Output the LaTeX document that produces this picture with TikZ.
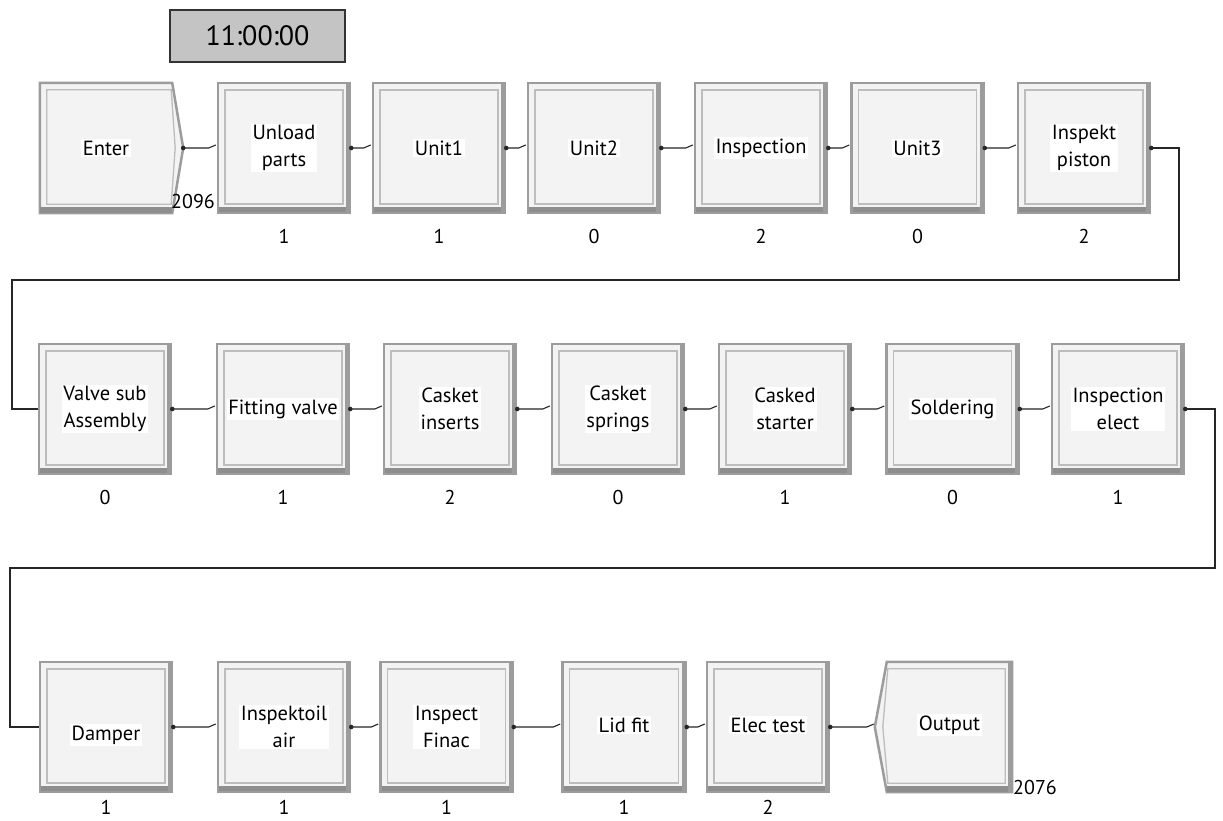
\documentclass[tikz,border=0pt]{standalone}
\usepackage{fontspec}
\setmainfont{PT Sans}
\usetikzlibrary{calc}
\definecolor{boxfill}{HTML}{F3F3F3}
\definecolor{boxedge}{HTML}{9C9C9C}
\definecolor{innerln}{HTML}{BDBDBD}
\definecolor{barcol}{HTML}{8E8E8E}
\definecolor{timerfill}{HTML}{C4C4C4}
\tikzset{
  procbox/.style={rectangle, fill=boxfill, draw=boxedge, line width=2.5pt,
    minimum width=132pt, minimum height=130pt, inner sep=0pt,
    path picture={
      \draw[innerln, line width=1.3pt]
        ([shift={(7pt,-7pt)}]path picture bounding box.north west) rectangle
        ([shift={(-7pt,9pt)}]path picture bounding box.south east);
      \fill[barcol] (path picture bounding box.south west) rectangle
        ([shift={(0pt,6pt)}]path picture bounding box.south east);
      \fill[boxedge] ([shift={(-4pt,0pt)}]path picture bounding box.south east) rectangle
        (path picture bounding box.north east);
    }},
  termbox/.style={rectangle, draw=none, fill=none, minimum width=132pt,
    minimum height=130pt, inner sep=0pt},
  termframe/.style={fill=boxfill, draw=boxedge, line width=2.5pt, line join=miter},
  terminner/.style={draw=innerln, line width=1.3pt},
  lbl/.style={fill=white, inner sep=1.5pt, align=center,
    font=\fontsize{20.5}{27}\selectfont},
  cnt/.style={inner sep=0pt, font=\fontsize{20}{24}\selectfont},
  timer/.style={rectangle, draw=black!80, line width=1.2pt, fill=timerfill,
    minimum width=175pt, minimum height=52pt, font=\fontsize{28}{32}\selectfont},
  conn/.style={draw=black!85, line width=1.1pt},
  fb/.style={draw=black!85, line width=1.3pt},
  srcdot/.style={fill=black!85},
}
\begin{document}
\begin{tikzpicture}[x=1pt, y=-1pt]
\useasboundingbox (0,0) rectangle (1223,821);
\fill[white] (0,0) rectangle (1223,821);

% timer
\node[timer] (clock) at (257.5,36) {11:00:00};

% ---------- row 1 ----------
\node[termbox] (enter) at (106,148) {};
\coordinate (entertip) at ($(enter.east)+(11pt,0pt)$);
\filldraw[termframe] (enter.north west) -- (enter.north east) -- (entertip)
  -- (enter.south east) -- (enter.south west) -- cycle;
\draw[terminner] ($(enter.north west)+(7pt,-7pt)$) -- ($(enter.north east)+(-1pt,-7pt)$)
  -- ($(entertip)+(-8pt,0pt)$) -- ($(enter.south east)+(-1pt,9pt)$)
  -- ($(enter.south west)+(7pt,9pt)$) -- cycle;
\fill[barcol] (enter.south west) rectangle ($(enter.south east)+(0pt,6pt)$);
\node[lbl] (enterl) at (enter) {Enter};
\node[cnt] (enterc) at (193,202) {2096};

\node[procbox] (unload) at (284,148) {};
\node[lbl] (unloadl) at (unload) {Unload\\parts};
\node[cnt] (unloadc) at ($(unload.south)+(0pt,-22pt)$) {1};

\node[procbox] (unit1) at (439,148) {};
\node[lbl] (unit1l) at (unit1) {Unit1};
\node[cnt] (unit1c) at ($(unit1.south)+(0pt,-22pt)$) {1};

\node[procbox] (unit2) at (594,148) {};
\node[lbl] (unit2l) at (unit2) {Unit2};
\node[cnt] (unit2c) at ($(unit2.south)+(0pt,-22pt)$) {0};

\node[procbox] (insp) at (761,148) {};
\node[lbl] (inspl) at (insp) {Inspection};
\node[cnt] (inspc) at ($(insp.south)+(0pt,-22pt)$) {2};

\node[procbox] (unit3) at (917.5,148) {};
\node[lbl] (unit3l) at (unit3) {Unit3};
\node[cnt] (unit3c) at ($(unit3.south)+(0pt,-22pt)$) {0};

\node[procbox] (pist) at (1084,148) {};
\node[lbl] (pistl) at (pist) {Inspekt\\piston};
\node[cnt] (pistc) at ($(pist.south)+(0pt,-22pt)$) {2};

% ---------- row 2 ----------
\node[procbox] (valve) at (105,409) {};
\node[lbl] (valvel) at (valve) {Valve sub\\Assembly};
\node[cnt] (valvec) at ($(valve.south)+(0pt,-22pt)$) {0};

\node[procbox] (fit) at (283,409) {};
\node[lbl] (fitl) at (fit) {Fitting valve};
\node[cnt] (fitc) at ($(fit.south)+(0pt,-22pt)$) {1};

\node[procbox] (cins) at (450,409) {};
\node[lbl] (cinsl) at (cins) {Casket\\inserts};
\node[cnt] (cinsc) at ($(cins.south)+(0pt,-22pt)$) {2};

\node[procbox] (cspr) at (618,409) {};
\node[lbl] (csprl) at (cspr) {Casket\\springs};
\node[cnt] (csprc) at ($(cspr.south)+(0pt,-22pt)$) {0};

\node[procbox] (cst) at (785,409) {};
\node[lbl] (cstl) at (cst) {Casked\\starter};
\node[cnt] (cstc) at ($(cst.south)+(0pt,-22pt)$) {1};

\node[procbox] (sold) at (952.5,409) {};
\node[lbl] (soldl) at (sold) {Soldering};
\node[cnt] (soldc) at ($(sold.south)+(0pt,-22pt)$) {0};

\node[procbox] (ielec) at (1118,409) {};
\node[lbl] (ielecl) at (ielec) {Inspection\\elect};
\node[cnt] (ielecc) at ($(ielec.south)+(0pt,-22pt)$) {1};

% ---------- row 3 ----------
\node[procbox] (damp) at (106,727) {};
\node[lbl] (dampl) at ($(damp)+(0pt,-8pt)$) {Damper};
\node[cnt] (dampc) at ($(damp.south)+(0pt,-14pt)$) {1};

\node[procbox] (oil) at (284,727) {};
\node[lbl] (oill) at (oil) {Inspektoil\\air};
\node[cnt] (oilc) at ($(oil.south)+(0pt,-14pt)$) {1};

\node[procbox] (finac) at (446.5,727) {};
\node[lbl] (finacl) at (finac) {Inspect\\Finac};
\node[cnt] (finacc) at ($(finac.south)+(0pt,-14pt)$) {1};

\node[procbox, minimum width=123pt] (lid) at (624,727) {};
\node[lbl] (lidl) at ($(lid)+(0pt,2pt)$) {Lid fit};
\node[cnt] (lidc) at ($(lid.south)+(0pt,-14pt)$) {1};

\node[procbox, minimum width=122pt] (etest) at (768,727) {};
\node[lbl] (etestl) at ($(etest)+(0pt,2pt)$) {Elec test};
\node[cnt] (etestc) at ($(etest.south)+(0pt,-14pt)$) {2};

\node[termbox, minimum width=125pt] (outp) at (949.5,727) {};
\coordinate (outtip) at ($(outp.west)+(-12pt,0pt)$);
\filldraw[termframe] (outp.north west) -- (outp.north east) -- (outp.south east)
  -- (outp.south west) -- (outtip) -- cycle;
\draw[terminner] ($(outp.north west)+(1pt,-7pt)$) -- ($(outp.north east)+(-7pt,-7pt)$)
  -- ($(outp.south east)+(-7pt,9pt)$) -- ($(outp.south west)+(1pt,9pt)$)
  -- ($(outtip)+(8pt,0pt)$) -- cycle;
\fill[barcol] (outp.south west) rectangle ($(outp.south east)+(0pt,6pt)$);
\fill[boxedge] ($(outp.south east)+(-4pt,0pt)$) rectangle (outp.north east);
\node[lbl] (outpl) at ($(outp)+(0pt,2pt)$) {Output};
\node[cnt] (outpc) at (1035,787) {2076};

% ---------- connectors ----------
\foreach \a/\b in {entertip/unload.west, unload.east/unit1.west, unit1.east/unit2.west,
  unit2.east/insp.west, insp.east/unit3.west, unit3.east/pist.west,
  valve.east/fit.west, fit.east/cins.west, cins.east/cspr.west, cspr.east/cst.west,
  cst.east/sold.west, sold.east/ielec.west,
  damp.east/oil.west, oil.east/finac.west, finac.east/lid.west, lid.east/etest.west,
  etest.east/outtip}{
  \draw[conn] (\a) -- ($(\b)+(-8pt,0pt)$) -- ($(\b)+(-1pt,3pt)$);
  \fill[srcdot] (\a) circle (2.3pt);
}

% feedback lines
\coordinate (r1) at (1179,280);
\coordinate (l1) at (12,280);
\draw[fb] (pist.east) -| (r1) -- (l1) |- (valve.west);
\fill[srcdot] (pist.east) circle (2.3pt);

\coordinate (r2) at (1215,568);
\coordinate (l2) at (10,568);
\draw[fb] (ielec.east) -| (r2) -- (l2) |- (damp.west);
\fill[srcdot] (ielec.east) circle (2.3pt);
\end{tikzpicture}
\end{document}
